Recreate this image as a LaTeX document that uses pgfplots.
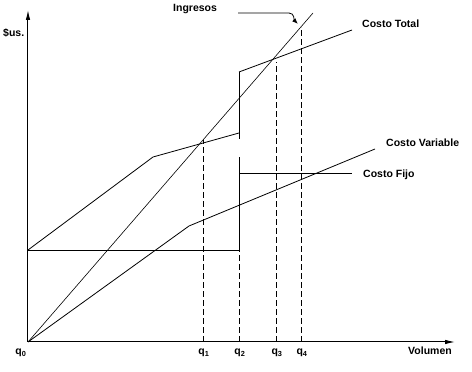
\documentclass[border=0pt]{standalone}
\usepackage{fontspec}
\setmainfont{Liberation Sans}
\usepackage{pgfplots}
\pgfplotsset{compat=1.18}
\usetikzlibrary{arrows.meta}
\tikzset{
  lbl/.style={font=\fontsize{10.5}{12}\selectfont\bfseries, inner sep=0pt, anchor=base west},
  dsh/.style={black, dash pattern=on 6pt off 3pt, line width=0.8pt},
  sld/.style={black, solid, line width=0.8pt},
}
\begin{document}
\begin{tikzpicture}
\begin{axis}[
  x=1pt, y=1pt,
  xmin=0, xmax=427, ymin=0, ymax=332,
  enlargelimits=false,
  scale only axis,
  axis lines=left,
  axis line style={line width=1pt, -{Latex[length=10pt,width=4.5pt]}},
  xtick=\empty, ytick=\empty,
  clip=false,
  every axis plot/.append style={mark=none},
]
% invisible frame fixing the picture size
\path[draw=none] (axis cs:-28,-30) rectangle (axis cs:444,342);

% Ingresos
\addplot[black, line width=0.6pt] coordinates {(0,0) (285,329)};
% Costo Fijo
\addplot[sld] coordinates {(0,92) (211,92)};
\addplot[sld] coordinates {(211,169) (324,169)};
% Costo Variable
\addplot[sld] coordinates {(0,0) (161,116) (347,193)};
% Costo Total
\addplot[sld] coordinates {(0,92) (125,185) (211,209)};
\addplot[sld] coordinates {(211,203) (211,270)};
\addplot[sld] coordinates {(211,270) (324,312)};
\addplot[sld] coordinates {(211,92) (211,185)};
% dashed volume lines
\addplot[dsh] coordinates {(211,0) (211,92)};
\addplot[dsh] coordinates {(175,0) (175,202)};
\addplot[dsh] coordinates {(248,0) (248,280)};
\addplot[dsh] coordinates {(273,0) (273,315)};

% labels
\node[lbl] at (axis cs:-25,305) {\$us.};
\node[lbl] at (axis cs:145,330) {Ingresos};
\draw[line width=0.8pt, -{Latex[length=6pt,width=4.5pt]}] (axis cs:210,329) -- (axis cs:261,329) to[out=0,in=135] (axis cs:270,318);
\node[lbl] at (axis cs:334,314) {Costo Total};
\node[lbl] at (axis cs:358,195) {Costo Variable};
\node[lbl] at (axis cs:335,164) {Costo Fijo};
\node[lbl] at (axis cs:380,-13) {Volumen};
\node[lbl, anchor=base] at (axis cs:-7,-13) {q\textsubscript{0}};
\node[lbl, anchor=base] at (axis cs:176,-13) {q\textsubscript{1}};
\node[lbl, anchor=base] at (axis cs:212,-13) {q\textsubscript{2}};
\node[lbl, anchor=base] at (axis cs:249,-13) {q\textsubscript{3}};
\node[lbl, anchor=base] at (axis cs:274,-13) {q\textsubscript{4}};
\end{axis}
\end{tikzpicture}
\end{document}
